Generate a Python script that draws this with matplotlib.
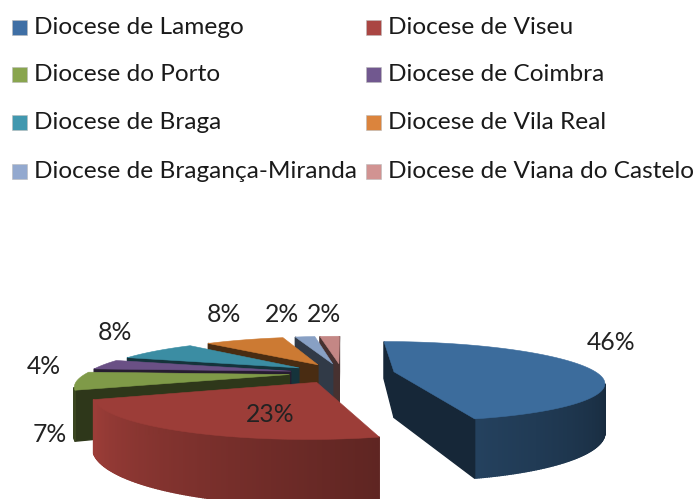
import numpy as np
import matplotlib
matplotlib.use("Agg")
import matplotlib.pyplot as plt
from matplotlib.patches import Polygon, Rectangle

plt.rcParams["font.family"] = ["Lato", "DejaVu Sans"]

# dados do grafico
dioceses = ["Diocese de Lamego", "Diocese de Viseu", "Diocese do Porto", "Diocese de Coimbra",
            "Diocese de Braga", "Diocese de Vila Real", "Diocese de Bragança-Miranda",
            "Diocese de Viana do Castelo"]
percent = [46, 23, 7, 4, 8, 8, 2, 2]
legend_colors = ["#3F6FA5", "#AA4643", "#89A54E", "#71588F", "#4198AF", "#DB843D", "#93A9CF", "#D19392"]
top_colors = ["#3C6C9C", "#9C3D38", "#7F9A48", "#6A5085", "#3B8DA3", "#CC7A33", "#88A0C4", "#C48785"]
label_xy = [(611, 342), (270, 415), (50, 434), (44, 367), (115, 332), (224, 314), (282, 314), (324, 314)]

# camara
cx, cy = 342, 373
rx, ry = 203, 38
persp = 0.24
depth = 46
explode = 0.26
start = 0


def project(x, y):
    w = 1 + persp * y
    return cx + rx * x / w, cy - ry * y / w, depth / w


def shade(col, f):
    return tuple(min(1, c * f) for c in matplotlib.colors.to_rgb(col))


fig = plt.figure(figsize=(6.93, 4.99), dpi=100)
ax = fig.add_axes([0, 0, 1, 1])
ax.set_xlim(0, 693)
ax.set_ylim(499, 0)
ax.axis("off")

edges = start + np.cumsum([0] + percent) * 3.6
for i in [7, 6, 5, 4, 3, 2, 1, 0]:
    a0, a1 = edges[i], edges[i + 1]
    mid = np.radians((a0 + a1) / 2)
    ex, ey = explode * np.sin(mid), explode * np.cos(mid)
    angs = np.linspace(a0, a1, max(int(a1 - a0) * 2, 8))
    pts = [project(ex, ey)]
    for a in angs:
        r = np.radians(a)
        pts.append(project(ex + np.sin(r), ey + np.cos(r)))
    pts.append(pts[0])
    n = len(pts) - 1
    for k in range(n):
        u, v = pts[k], pts[k + 1]
        if v[0] >= u[0]:
            continue
        if k == 0 or k == n - 1:
            f = 0.36
        else:
            f = np.interp(angs[k - 1] % 360, [90, 160, 245, 360], [0.33, 0.58, 1.0, 1.0])
            if i == 2:
                f = 0.45
        col = shade(top_colors[i], f)
        ax.add_patch(Polygon([(u[0], u[1]), (v[0], v[1]), (v[0], v[1] + v[2]), (u[0], u[1] + u[2])],
                             closed=True, fc=col, ec=col, lw=1))
    ax.add_patch(Polygon([(p[0], p[1]) for p in pts[:-1]], closed=True, fc=top_colors[i], ec=top_colors[i], lw=0.4))

for (x, y), p in zip(label_xy, percent):
    ax.text(x, y, f"{p}%", fontsize=17.8, color="#222222", ha="center", va="center")

# legenda
rows = [27, 74, 122, 171]
for i, name in enumerate(dioceses):
    col = i % 2
    y = rows[i // 2]
    sx = 12 if col == 0 else 366
    ax.add_patch(Rectangle((sx, y - 7.5), 15, 15, fc=legend_colors[i], ec="#BBBBBB", lw=0.4))
    ax.text(sx + 22, y, name, fontsize=17.6, color="#1a1a1a", ha="left", va="center")

fig.savefig("out.png", dpi=100)
